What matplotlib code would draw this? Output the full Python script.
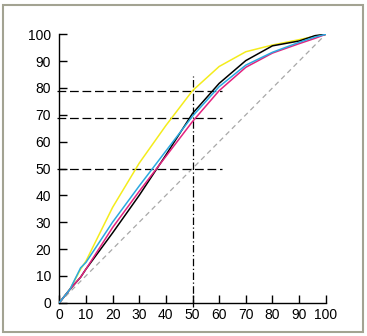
import matplotlib
matplotlib.use("Agg")
import matplotlib.pyplot as plt
from matplotlib.patches import Rectangle

# Cumulative share curves (percent of population vs percent of total)
pct_x = [0, 4, 8, 10, 20, 30, 40, 50, 60, 70, 80, 90, 96, 100]
yellow_y = [0, 5, 12.5, 15.5, 35.5, 52, 66, 79, 88, 93.5, 96, 98, 99.3, 100]
cyan_y = [0, 5, 13, 15, 30, 43.5, 56.5, 69.5, 80.5, 88.5, 93.3, 97, 99, 100]
magenta_y = [0, 5, 9.5, 12.5, 28, 41.5, 54.5, 67.5, 79, 87.7, 93, 96.5, 98.5, 100]
black_y = [0, 5, 9.5, 12.5, 26, 40, 55, 70.5, 81.7, 90.2, 95.7, 97.5, 99.5, 100]

# Reference levels
ref_levels = [79, 69, 50]
ref_x_end = 61
ref_vertical = 50
ref_vertical_top = 84.5

ticks = list(range(0, 101, 10))

plt.rcParams['font.family'] = ['Liberation Sans', 'DejaVu Sans']

fig = plt.figure(figsize=(3.67, 3.36), dpi=100)
fig.patch.set_facecolor('white')

# outer frame
fig.patches.append(Rectangle((3 / 367, 4 / 336), 360 / 367, 327 / 336,
                             transform=fig.transFigure, fill=False,
                             edgecolor='#a3a392', linewidth=1.5))

ax = fig.add_axes([59.3 / 367, 33.3 / 336, 266.4 / 367, 268.4 / 336])
ax.set_xlim(0, 100)
ax.set_ylim(0, 100)
ax.patch.set_alpha(0)

# diagonal of equality
ax.plot([0, 100], [0, 100], color='#a8a8a8', linestyle=(0, (4, 3)), linewidth=0.9, zorder=1)

# guide lines
for lvl in ref_levels:
    ax.plot([-1, ref_x_end], [lvl, lvl], color='black', linestyle=(0, (7, 3)),
            linewidth=0.9, clip_on=False, zorder=2)
ax.plot([ref_vertical, ref_vertical], [-1.5, ref_vertical_top], color='black',
        linestyle=(0, (6, 2, 1, 2)), linewidth=0.9, clip_on=False, zorder=2)

lw = 1.1
ax.plot(pct_x, yellow_y, color='#f4ec1c', linewidth=lw, zorder=3)
ax.plot(pct_x, black_y, color='black', linewidth=lw, zorder=4)
ax.plot(pct_x, magenta_y, color='#e3237e', linewidth=lw, zorder=5)
ax.plot(pct_x, cyan_y, color='#2aa9e0', linewidth=lw, zorder=6)

for side in ('top', 'right'):
    ax.spines[side].set_visible(False)
for side in ('left', 'bottom'):
    ax.spines[side].set_linewidth(1.0)

ax.set_xticks(ticks)
ax.set_yticks(ticks)
ax.tick_params(direction='in', length=6, width=1.0, labelsize=10, colors='black')
ax.tick_params(axis='y', pad=6)
ax.tick_params(axis='x', pad=4)

fig.savefig('out.png', dpi=100)
